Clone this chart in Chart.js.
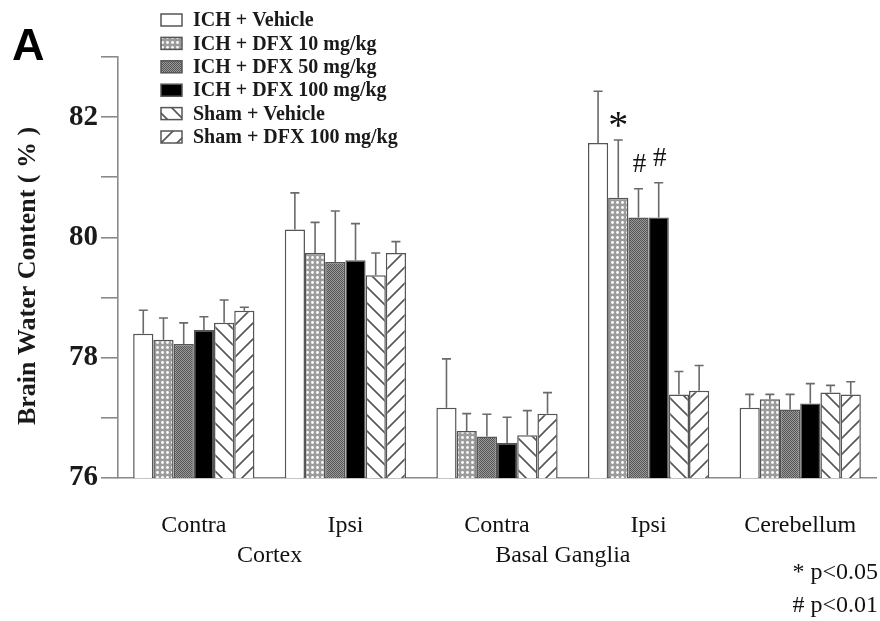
<!DOCTYPE html>
<html>
<head>
<meta charset="utf-8">
<script src="https://cdn.jsdelivr.net/npm/chart.js@4.4.0/dist/chart.umd.min.js"></script>
<style>
  html, body { margin: 0; background: #fff; }
  #wrap { width: 880px; height: 621px; }
</style>
</head>
<body>
<div id="wrap"><canvas id="barChart"></canvas></div>
<script>
const categories = ["Contra", "Ipsi", "Contra", "Ipsi", "Cerebellum"];
const regions = ["Cortex", "Basal Ganglia"];
const seriesNames = ["ICH + Vehicle", "ICH + DFX 10 mg/kg", "ICH + DFX 50 mg/kg",
  "ICH + DFX 100 mg/kg", "Sham + Vehicle", "Sham + DFX 100 mg/kg"];
const yTicks = [76, 77, 78, 79, 80, 81, 82, 83];

// mean values per group
const ichVehicle = [78.40, 80.13, 77.17, 81.57, 77.17];
const ichDfx10   = [78.30, 79.74, 76.78, 80.66, 77.31];
const ichDfx50   = [78.23, 79.59, 76.69, 80.33, 77.14];
const ichDfx100  = [78.46, 79.62, 76.58, 80.33, 77.24];
const shamVehicle = [78.58, 79.37, 76.71, 77.39, 77.42];
const shamDfx100  = [78.78, 79.74, 77.07, 77.45, 77.39];

// upper error (SD)
const ichVehicleErr = [0.39, 0.61, 0.81, 0.86, 0.22];
const ichDfx10Err   = [0.36, 0.51, 0.29, 0.96, 0.08];
const ichDfx50Err   = [0.35, 0.85, 0.37, 0.48, 0.25];
const ichDfx100Err  = [0.22, 0.61, 0.43, 0.58, 0.33];
const shamVehicleErr = [0.38, 0.37, 0.41, 0.38, 0.12];
const shamDfx100Err  = [0.06, 0.19, 0.35, 0.42, 0.21];

// significance marks: [series index, category index, text]
const marks = [[1, 3, "*"], [2, 3, "#"], [3, 3, "#"]];

function makePattern(size, drawFn) {
  const c = document.createElement("canvas");
  c.width = size; c.height = size;
  const g = c.getContext("2d");
  drawFn(g, size);
  return document.getElementById("barChart").getContext("2d").createPattern(c, "repeat");
}

const dotted = makePattern(5, (g, s) => {
  g.fillStyle = "#9c9c9c"; g.fillRect(0, 0, s, s);
  g.fillStyle = "#ffffff";
  g.beginPath(); g.arc(2.5, 2.5, 1.4, 0, Math.PI * 2); g.fill();
});
const checker = makePattern(2, (g, s) => {
  g.fillStyle = "#9a9a9a"; g.fillRect(0, 0, s, s);
  g.fillStyle = "#555555"; g.fillRect(0, 0, 1, 1); g.fillRect(1, 1, 1, 1);
});
function hatch(back) {
  return makePattern(16, (g, s) => {
    g.fillStyle = "#fff"; g.fillRect(0, 0, s, s);
    g.strokeStyle = "#555"; g.lineWidth = 1.6;
    g.beginPath();
    if (back) {
      g.moveTo(-2, -2); g.lineTo(s + 2, s + 2);
      g.moveTo(-2, s - 2); g.lineTo(2, s + 2);
      g.moveTo(s - 2, -2); g.lineTo(s + 2, 2);
    } else {
      g.moveTo(-2, s + 2); g.lineTo(s + 2, -2);
      g.moveTo(-2, 2); g.lineTo(2, -2);
      g.moveTo(s - 2, s + 2); g.lineTo(s + 2, s - 2);
    }
    g.stroke();
  });
}

const values = [ichVehicle, ichDfx10, ichDfx50, ichDfx100, shamVehicle, shamDfx100];
const errors = [ichVehicleErr, ichDfx10Err, ichDfx50Err, ichDfx100Err, shamVehicleErr, shamDfx100Err];
const fills = ["#ffffff", dotted, checker, "#000000", hatch(true), hatch(false)];

const serif = "'Liberation Serif', 'Times New Roman', serif";

const extras = {
  id: "extras",
  afterDatasetsDraw(chart) {
    const ctx = chart.ctx, y = chart.scales.y;
    ctx.save();
    ctx.strokeStyle = "#6a6a6a";
    ctx.lineWidth = 1.6;
    values.forEach((vals, i) => {
      chart.getDatasetMeta(i).data.forEach((bar, j) => {
        const top = y.getPixelForValue(vals[j] + errors[i][j]);
        const yb = y.getPixelForValue(vals[j]);
        ctx.beginPath();
        ctx.moveTo(bar.x, yb); ctx.lineTo(bar.x, top);
        ctx.moveTo(bar.x - 4.5, top); ctx.lineTo(bar.x + 4.5, top);
        ctx.stroke();
      });
    });
    ctx.restore();
  },
  afterDraw(chart) {
    const ctx = chart.ctx, x = chart.scales.x, y = chart.scales.y;
    ctx.save();
    ctx.fillStyle = "#111";
    ctx.textAlign = "center";
    ctx.textBaseline = "middle";

    // significance marks
    marks.forEach(([i, j, t]) => {
      const bar = chart.getDatasetMeta(i).data[j];
      const top = y.getPixelForValue(values[i][j] + errors[i][j]);
      if (t === "*") {
        ctx.font = "40px " + serif;
        ctx.fillText(t, bar.x, top - 12);
      } else {
        ctx.font = "27px " + serif;
        ctx.fillText(t, bar.x + 1, top - 24);
      }
    });

    // region labels
    ctx.font = "24px " + serif;
    ctx.fillText(regions[0], (x.getPixelForValue(0) + x.getPixelForValue(1)) / 2, 556);
    ctx.fillText(regions[1], (x.getPixelForValue(2) + x.getPixelForValue(3)) / 2 - 10, 556);

    // p-values
    ctx.textAlign = "right";
    ctx.fillText("* p<0.05", 878, 573);
    ctx.fillText("# p<0.01", 878, 606);

    // panel letter
    ctx.textAlign = "left";
    ctx.font = "bold 45px 'Liberation Sans', Arial, sans-serif";
    ctx.fillStyle = "#000";
    ctx.fillText("A", 12, 48);

    // y title
    ctx.save();
    ctx.translate(28, 276);
    ctx.rotate(-Math.PI / 2);
    ctx.textAlign = "center";
    ctx.font = "bold 26px " + serif;
    ctx.fillStyle = "#1a1a1a";
    ctx.fillText("Brain Water Content ( % )", 0, 0);
    ctx.restore();

    // legend
    ctx.font = "bold 20px " + serif;
    ctx.textAlign = "left";
    seriesNames.forEach((name, i) => {
      const ry = 20 + i * 23.4;
      ctx.fillStyle = fills[i];
      ctx.fillRect(161, ry - 6, 21, 12);
      ctx.strokeStyle = "#555";
      ctx.lineWidth = 1.5;
      ctx.strokeRect(161, ry - 6, 21, 12);
      ctx.fillStyle = "#1a1a1a";
      ctx.fillText(name, 193, ry + 1);
    });
    ctx.restore();
  }
};

new Chart(document.getElementById("barChart"), {
  type: "bar",
  data: {
    labels: categories,
    datasets: seriesNames.map((name, i) => ({
      label: name,
      data: values[i],
      backgroundColor: fills[i],
      borderColor: "#555",
      borderWidth: 1.5,
      borderSkipped: false,
      categoryPercentage: 0.8,
      barPercentage: 1.0
    }))
  },
  options: {
    responsive: true,
    maintainAspectRatio: false,
    animation: false,
    layout: { padding: { top: 57, right: 4, left: 0, bottom: 0 } },
    plugins: { legend: { display: false }, tooltip: { enabled: false } },
    scales: {
      x: {
        grid: { display: false, drawTicks: false },
        border: { display: true, color: "#8a8a8a", width: 1.6 },
        ticks: { color: "#111", font: { family: serif, size: 24 }, padding: 33, maxRotation: 0 },
        afterFit(s) { s.height = 143; s.paddingLeft = 0; s.paddingRight = 0; }
      },
      y: {
        min: 76,
        max: 83,
        afterBuildTicks(s) { s.ticks = yTicks.map(v => ({ value: v })); },
        grid: { drawOnChartArea: false, drawTicks: true, tickLength: 17, color: "#8a8a8a", lineWidth: 1.6 },
        border: { display: true, color: "#8a8a8a", width: 1.6 },
        ticks: {
          color: "#1a1a1a",
          font: { family: serif, size: 29, weight: "bold" },
          padding: 3,
          callback: v => (v % 2 === 0 && v < 83 ? String(v) : "")
        },
        afterFit(s) { s.width = 118; }
      }
    }
  },
  plugins: [extras]
});
</script>
</body>
</html>
